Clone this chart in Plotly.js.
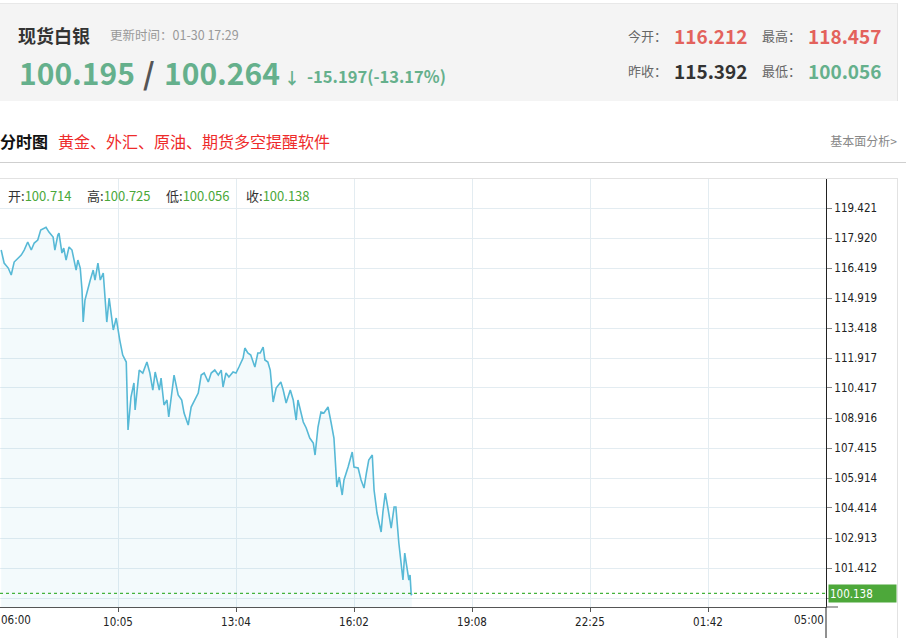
<!DOCTYPE html>
<html>
<head>
<meta charset="utf-8">
<script src="https://cdn.plot.ly/plotly-3.0.1.min.js"></script>
<style>
  html,body{margin:0;padding:0;background:#fff;}
  body{width:906px;height:638px;position:relative;overflow:hidden;font-family:"Noto Sans CJK SC","Noto Sans",sans-serif;}
  .t{position:absolute;white-space:nowrap;line-height:1;}
</style>
</head>
<body>
<div id="chart" style="position:absolute;left:0;top:0;width:906px;height:638px;"></div>

<div style="position:absolute;left:0;top:3px;width:897px;height:97px;background:#f4f4f4;border-top:1px solid #e8e8e8;border-right:1px solid #e4e4e4;"></div>
<div class="t" style="left:18px;top:26px;font-size:18px;font-weight:bold;color:#333;">现货白银</div>
<div class="t" style="left:110px;top:29px;font-size:12.5px;color:#999;">更新时间：01-30 17:29</div>
<div class="t" style="left:19px;top:57px;font-size:30px;font-weight:bold;color:#65b08c;">100.195</div>
<div class="t" style="left:143px;top:57px;font-size:30px;font-weight:bold;color:#555;">/</div>
<div class="t" style="left:164px;top:57px;font-size:30px;font-weight:bold;color:#65b08c;">100.264</div>
<div class="t" style="left:284px;top:69px;font-size:16px;font-weight:bold;color:#65b08c;">↓</div>
<div class="t" style="left:307px;top:68px;font-size:16.5px;font-weight:bold;color:#65b08c;">-15.197(-13.17%)</div>

<div class="t" style="left:628px;top:29px;font-size:13px;color:#666;">今开：</div>
<div class="t" style="left:674px;top:26px;font-size:19px;font-weight:bold;color:#e3625c;">116.212</div>
<div class="t" style="left:762px;top:29px;font-size:13px;color:#666;">最高：</div>
<div class="t" style="left:808px;top:26px;font-size:19px;font-weight:bold;color:#e3625c;">118.457</div>
<div class="t" style="left:628px;top:64px;font-size:13px;color:#666;">昨收：</div>
<div class="t" style="left:674px;top:61px;font-size:19px;font-weight:bold;color:#333;">115.392</div>
<div class="t" style="left:762px;top:64px;font-size:13px;color:#666;">最低：</div>
<div class="t" style="left:808px;top:61px;font-size:19px;font-weight:bold;color:#65b08c;">100.056</div>

<div class="t" style="left:0px;top:133px;font-size:16px;font-weight:bold;color:#111;">分时图</div>
<div class="t" style="left:58px;top:133px;font-size:16px;color:#ee2b2b;">黄金、外汇、原油、期货多空提醒软件</div>
<div class="t" style="right:9px;top:135px;font-size:12px;color:#888;">基本面分析&gt;</div>
<div style="position:absolute;left:0;top:162px;width:906px;height:1px;background:#cfcfcf;"></div>
<div style="position:absolute;left:0;top:178px;width:897px;height:1px;background:#e2e2e2;"></div>
<div style="position:absolute;left:897px;top:178px;width:1px;height:460px;background:#e2e2e2;"></div>

<div class="t" style="left:8px;top:189px;font-size:13px;color:#333;">开:<span style="color:#4aa83a;">100.714</span></div>
<div class="t" style="left:87px;top:189px;font-size:13px;color:#333;">高:<span style="color:#4aa83a;">100.725</span></div>
<div class="t" style="left:166px;top:189px;font-size:13px;color:#333;">低:<span style="color:#4aa83a;">100.056</span></div>
<div class="t" style="left:246px;top:189px;font-size:13px;color:#333;">收:<span style="color:#4aa83a;">100.138</span></div>

<script>
// minute index within the session (0 = 06:00, 1400 = 05:00 next day)
const idx = [2,7,14,19,24,31,36,41,47,53,58,64,69,78,83,90,93,98,100,105,108,112,117,122,125,129,132,136,139,141,144,149,153,158,161,166,170,175,178,181,185,188,192,197,200,203,208,214,217,222,227,229,236,242,249,254,259,263,270,273,278,283,286,292,295,302,308,312,319,324,331,336,341,346,353,358,364,370,375,378,383,388,395,400,405,412,415,420,425,432,437,441,446,449,454,458,463,468,476,480,485,492,497,502,505,514,519,525,531,534,539,544,549,556,561,566,571,575,580,583,590,597,600,607,612,617,621,625,631,634,639,642,646,649,653,658,663,668,671,676,680,683,686,690,693,695,697,698];
const price = [117.318,116.668,116.417,116.067,116.718,116.918,117.068,117.318,117.718,117.318,117.668,117.818,118.318,118.457,118.218,117.968,117.318,118.068,118.168,117.168,117.418,116.818,117.468,117.318,116.918,116.317,116.818,116.417,115.317,113.716,114.817,115.417,115.817,116.317,115.817,116.668,115.817,116.167,114.967,113.716,114.917,114.317,113.317,113.917,113.317,112.816,112.066,111.715,108.314,109.965,110.665,109.315,111.315,111.165,111.715,111.165,110.315,111.215,110.315,110.915,109.565,109.815,108.965,110.565,111.065,110.065,109.815,109.165,108.564,109.465,109.915,110.165,111.065,111.165,110.715,111.165,111.315,111.065,111.315,110.465,111.165,110.965,111.215,111.165,111.466,111.916,112.416,112.166,112.066,111.466,112.166,112.166,112.466,111.816,111.715,111.315,109.715,110.415,110.715,110.315,109.665,110.315,109.815,108.815,109.815,108.715,108.415,107.914,107.664,107.064,108.465,109.215,109.165,109.465,108.715,107.914,105.463,105.963,105.063,105.813,106.464,107.214,106.464,106.414,105.813,105.413,106.164,106.814,107.064,105.313,104.163,103.813,103.212,104.213,105.163,104.313,103.412,104.462,104.462,102.662,101.462,100.811,102.162,101.462,100.811,101.061,100.056,100.138];

const yTickVals = [99.911,101.412,102.913,104.414,105.914,107.415,108.916,110.417,111.917,113.418,114.919,116.419,117.920,119.421];
const yTickText = ["","101.412","102.913","104.414","105.914","107.415","108.916","110.417","111.917","113.418","114.919","116.419","117.920","119.421"];
const xTickVals = [200,400,600,800,1000,1200];
const xTickText = ["10:05","13:04","16:02","19:08","22:25","01:42"];
const xEdgeLabels = ["06:00","05:00"];
const lastClose = 100.138;

const W = 906, H = 638;
const axFont = {family:"DejaVu Sans Condensed, Liberation Sans, sans-serif", size:11.5, color:"#222"};

const trace = {
  x: idx, y: price, type:"scatter", mode:"lines",
  line:{color:"#57b9d6", width:1.6},
  fill:"tozeroy", fillcolor:"rgba(87,185,214,0.07)",
  hoverinfo:"skip"
};

const layout = {
  width:W, height:H,
  margin:{l:0,r:0,t:0,b:0,pad:0},
  paper_bgcolor:"rgba(0,0,0,0)", plot_bgcolor:"#fff",
  showlegend:false,
  xaxis:{
    domain:[0, 826/W], range:[0,1400],
    tickmode:"array", tickvals:xTickVals, ticktext:xTickText,
    showgrid:true, gridcolor:"#e3ecf1", gridwidth:1,
    showline:true, linecolor:"#555", linewidth:1,
    ticks:"outside", ticklen:4, tickcolor:"#555",
    tickfont:axFont, zeroline:false, fixedrange:true
  },
  yaxis:{
    domain:[1-607/H, 1-178/H], range:[99.461,120.922],
    side:"right",
    tickmode:"array", tickvals:yTickVals, ticktext:yTickText,
    showgrid:true, gridcolor:"#e3ecf1", gridwidth:1,
    showline:true, linecolor:"#222", linewidth:1,
    ticks:"outside", ticklen:5, tickcolor:"#888",
    tickfont:axFont, zeroline:false, fixedrange:true
  },
  shapes:[
    {type:"line", xref:"paper", yref:"y", x0:0, x1:826/W, y0:lastClose, y1:lastClose,
     line:{color:"#44b33c", width:1.2, dash:"dot"}},
    {type:"line", xref:"paper", yref:"paper", x0:826/W, x1:826/W, y0:0, y1:1-607/H,
     line:{color:"#222", width:1}},
    {type:"line", xref:"paper", yref:"paper", x0:826/W, x1:838/W, y0:1-607/H, y1:1-607/H,
     line:{color:"#555", width:1}}
  ],
  annotations:[
    {xref:"paper", yref:"y", x:828/W, y:lastClose, xanchor:"left", yanchor:"middle",
     text:String(lastClose.toFixed(3)), showarrow:false, align:"left",
     bgcolor:"#4da83a", width:65, height:15, borderpad:1,
     font:{family:axFont.family, size:11.5, color:"#fff"}},
    {xref:"x", yref:"paper", x:0, y:1-620/H, xanchor:"left", yanchor:"middle", xshift:-1,
     text:xEdgeLabels[0], showarrow:false, font:axFont},
    {xref:"x", yref:"paper", x:1400, y:1-620/H, xanchor:"right", yanchor:"middle",
     text:xEdgeLabels[1], showarrow:false, font:axFont}
  ]
};

Plotly.newPlot("chart", [trace], layout, {staticPlot:true, displayModeBar:false});
</script>
</body>
</html>
